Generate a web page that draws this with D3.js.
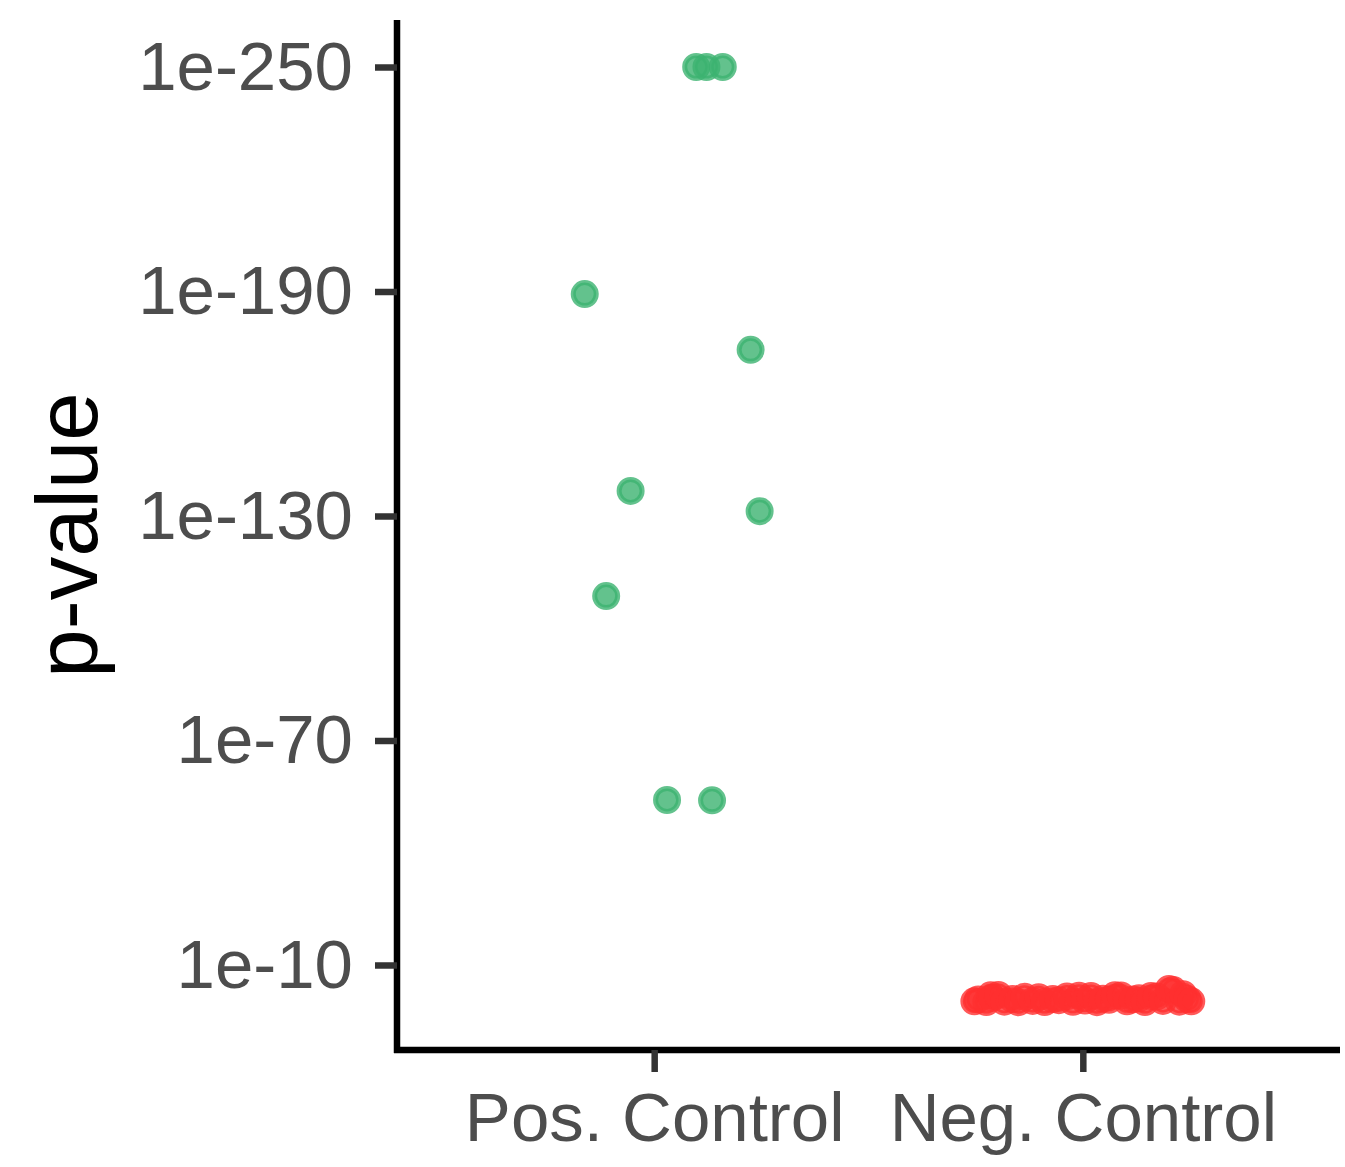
<!DOCTYPE html>
<html>
<head>
<meta charset="utf-8">
<script src="https://cdn.jsdelivr.net/npm/d3@7"></script>
<style>
  body { margin: 0; background: #fff; }
  svg { display: block; font-family: "Liberation Sans", Arial, sans-serif; }
  .tick text { fill: #4d4d4d; }
</style>
</head>
<body>
<div id="chart"></div>
<script>
// categories and values (values are -log10 p, jitter is in category units)
var groups = ['Pos. Control', 'Neg. Control'];
var yTicks = [250, 190, 130, 70, 10];

var posJitter = [0.098, 0.122, 0.160, -0.162, 0.225, -0.055, 0.246, -0.112, 0.030, 0.135];
var posLogP = [250, 250, 250, 189.3, 174.4, 136.7, 131.3, 108.6, 54.1, 54.0];

var negJitter = [-0.253, -0.244, -0.225, -0.215, -0.211, -0.197, -0.183, -0.164, -0.150, -0.136,
  -0.117, -0.103, -0.089, -0.070, -0.056, -0.037, -0.023, -0.009, 0.005, 0.019,
  0.033, 0.047, 0.061, 0.075, 0.089, 0.103, 0.117, 0.131, 0.145, 0.159,
  0.173, 0.187, 0.201, 0.211, 0.225, 0.234, 0.244, 0.253];
var negLogP = [0.3, 0.8, 0.1, 1.9, 1.2, 2.0, 0.2, 0.9, 0.05, 1.5,
  0.4, 1.4, 0.1, 0.9, 0.6, 1.6, 0.15, 1.8, 0.5, 1.7,
  0.05, 1.0, 0.7, 1.9, 1.85, 0.3, 0.8, 1.1, 0.1, 1.7,
  1.6, 0.4, 3.6, 3.3, 0.2, 2.2, 0.9, 0.3];

var colors = { 'Pos. Control': '#3cb371', 'Neg. Control': '#ff3030' };

var width = 1345;
var height = 1167;
var padLeft = 397, padRight = 1340, padTop = 20, padBottom = 1050;

var svg = d3.select('#chart').append('svg')
  .attr('width', width)
  .attr('height', height);

var points = [];
posJitter.forEach(function(j, i) {
  points.push({ group: 'Pos. Control', jitter: j, v: posLogP[i] });
});
negJitter.forEach(function(j, i) {
  points.push({ group: 'Neg. Control', jitter: j, v: negLogP[i] });
});

// scales
var xScale = d3.scalePoint()
  .domain(groups)
  .range([padLeft, padRight])
  .padding(0.6);

var yScale = d3.scaleLinear()
  .domain([-12.72, 262.56])
  .range([padBottom, padTop]);

// points
svg.append('g').selectAll('circle')
  .data(points)
  .enter()
  .append('circle')
  .attr('cx', function(d) { return xScale(d.group) + d.jitter * xScale.step(); })
  .attr('cy', function(d) { return yScale(d.v); })
  .attr('r', 11.5)
  .attr('fill', function(d) { return colors[d.group]; })
  .attr('fill-opacity', 0.8)
  .attr('stroke', function(d) { return colors[d.group]; })
  .attr('stroke-opacity', 0.8)
  .attr('stroke-width', 5);

// axes
var yAxis = d3.axisLeft(yScale)
  .tickValues(yTicks)
  .tickFormat(function(d) { return '1e-' + d; })
  .tickSize(22)
  .tickSizeOuter(0)
  .tickPadding(22);

var xAxis = d3.axisBottom(xScale)
  .tickSize(22)
  .tickSizeOuter(0)
  .tickPadding(20);

var gy = svg.append('g')
  .attr('transform', 'translate(' + padLeft + ',0)')
  .call(yAxis);

var gx = svg.append('g')
  .attr('transform', 'translate(0,' + padBottom + ')')
  .call(xAxis);

[gx, gy].forEach(function(g) {
  g.select('.domain').attr('stroke', '#000').attr('stroke-width', 6.5);
  g.selectAll('.tick line').attr('stroke', '#333').attr('stroke-width', 6.5);
  g.selectAll('.tick text').attr('font-size', 69).attr('fill', '#4d4d4d');
});

gy.select('.domain').attr('d', 'M0,' + padTop + 'V' + (padBottom + 3));
gx.select('.domain').attr('d', 'M' + (padLeft - 3) + ',0H' + padRight);
gx.selectAll('.tick text').attr('dy', '0.71em');

// y axis title
svg.append('text')
  .attr('text-anchor', 'middle')
  .attr('transform', 'translate(97,' + ((padTop + padBottom) / 2) + ') rotate(-90)')
  .attr('font-size', 87)
  .attr('fill', '#000')
  .text('p-value');
</script>
</body>
</html>
